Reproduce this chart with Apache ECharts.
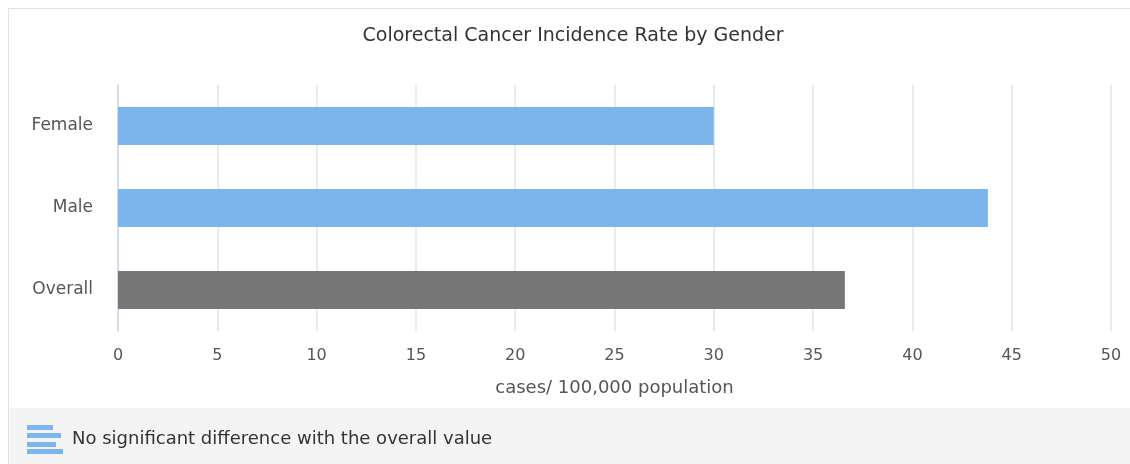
<!DOCTYPE html>
<html><head><meta charset="utf-8">
<script src="https://cdn.jsdelivr.net/npm/echarts@6/dist/echarts.min.js"></script>
<style>html,body{margin:0;padding:0;background:#fff}#c{width:1130px;height:464px}</style>
</head><body><div id="c"></div>
<script>
const categories = ['Female', 'Male', 'Overall'];
const values = [30.0, 43.8, 36.6];
const barColors = ['#7cb5ec', '#7cb5ec', '#777777'];
const xTicks = { min: 0, max: 50, interval: 5 };
const titleText = 'Colorectal Cancer Incidence Rate by Gender';
const axisName = 'cases/ 100,000 population';
const legendText = 'No significant difference with the overall value';

const FONT = 'DejaVu Sans';
const chart = echarts.init(document.getElementById('c'), null, { renderer: 'canvas' });
const iconBars = [[425, 26], [433, 34], [442, 29], [449, 36]];
chart.setOption({
  animation: false,
  backgroundColor: '#fff',
  title: {
    text: titleText, left: 568, top: 22, textAlign: 'center',
    textStyle: { fontFamily: FONT, fontSize: 19, fontWeight: 'normal', color: '#333' }
  },
  grid: { left: 118, right: 19, top: 85, bottom: 133, containLabel: false },
  xAxis: {
    type: 'value', min: xTicks.min, max: xTicks.max, interval: xTicks.interval,
    name: axisName, nameLocation: 'middle', nameGap: 48,
    nameTextStyle: { fontFamily: FONT, fontSize: 18, color: '#555' },
    axisLine: { show: false }, axisTick: { show: false },
    axisLabel: { fontFamily: FONT, fontSize: 16, color: '#555', margin: 17 },
    splitLine: { show: true, lineStyle: { color: '#e3e3e3', width: 1.5 } }
  },
  yAxis: {
    type: 'category', data: categories, inverse: true,
    axisLine: { show: true, lineStyle: { color: '#ccd6eb', width: 1.5 } },
    axisTick: { show: false },
    axisLabel: { fontFamily: FONT, fontSize: 17, color: '#555', margin: 25 },
    splitLine: { show: false }
  },
  series: [{
    type: 'bar', barWidth: 38,
    data: values.map((v, i) => ({ value: v, itemStyle: { color: barColors[i] } }))
  }],
  graphic: [
    { type: 'rect', shape: { x: 8.5, y: 8.5, width: 1130, height: 460 }, style: { fill: 'none', stroke: '#d6e4f2', lineWidth: 1 }, z: -1 },
    { type: 'rect', shape: { x: 10, y: 408, width: 1120, height: 56 }, style: { fill: '#f4f4f4' }, z: -1 },
    ...iconBars.map(([y, w]) => ({ type: 'rect', shape: { x: 27, y: y, width: w, height: 5 }, style: { fill: '#7cb5ec' } })),
    { type: 'text', x: 72, y: 439, style: { text: legendText, fontFamily: FONT, fontSize: 18, fill: '#333', verticalAlign: 'middle' } }
  ]
});
</script></body></html>
